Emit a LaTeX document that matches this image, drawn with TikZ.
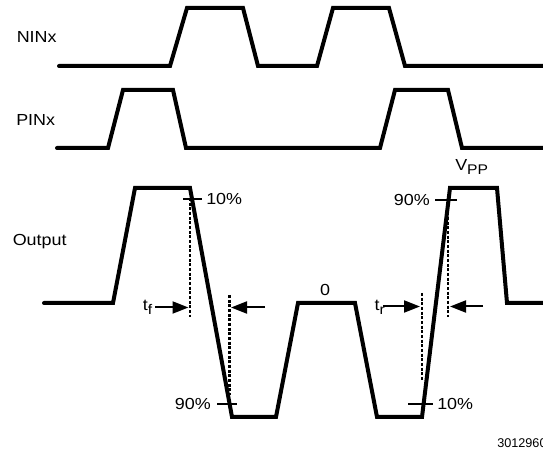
\documentclass[tikz,border=0pt]{standalone}
\usepackage{fontspec}
\setmainfont{Liberation Sans}
\usetikzlibrary{arrows.meta}
\newcommand{\sxw}[1]{\scalebox{1.12}[1]{#1}}
\newcommand{\subx}[1]{\raisebox{-0.45ex}{\fontsize{10.5}{12}\selectfont #1}}
\begin{document}
\begin{tikzpicture}[x=0.75pt,y=-0.75pt,
  wave/.style={line width=3pt, line cap=round, line join=miter},
  dotline/.style={line width=1.6pt, dash pattern=on 2.2pt off 1.3pt},
  tick/.style={line width=1.5pt},
  arr/.style={line width=1.5pt, -{Triangle[length=12pt,width=9pt]}},
  lab/.style={inner sep=0pt, font=\fontsize{12}{14}\selectfont},
  small/.style={inner sep=0pt, font=\fontsize{9.5}{11}\selectfont}]
\useasboundingbox (0,0) rectangle (543,452);
% waveforms
\draw[wave] (59,66) -- (170,66) -- (187,8) -- (243,8) -- (258,66) -- (317,66) -- (333,8) -- (389,8) -- (405,66) -- (543,66);
\draw[wave] (57,148) -- (108,148) -- (123,90) -- (173,90) -- (186,148) -- (380,148) -- (395,90) -- (448,90) -- (462,148) -- (543,148);
\draw[wave] (44,303) -- (113,303) -- (135,188) -- (190,188) -- (232,417) -- (276,417) -- (298,303) -- (355,303) -- (377,417) -- (422,417) -- (450,188) -- (497,188) -- (507,303) -- (543,303);
% dotted reference lines
\coordinate (d1t) at (190,198); \coordinate (d1b) at (190,317);
\coordinate (d2t) at (229.5,295); \coordinate (d2b) at (229.5,395);
\coordinate (d3t) at (421.7,293); \coordinate (d3b) at (421.7,380);
\coordinate (d4t) at (448.3,203); \coordinate (d4b) at (448.3,317);
\draw[dotline] (d1t) -- (d1b);
\draw[dotline] (d2t) -- (d2b);
\draw[dotline] (d3t) -- (d3b);
\draw[dotline] (d4t) -- (d4b);
% ticks
\coordinate (k1a) at (183,199); \coordinate (k1b) at (202,199);
\coordinate (k2a) at (217,404); \coordinate (k2b) at (237,404);
\coordinate (k3a) at (435,200.5); \coordinate (k3b) at (457,200.5);
\coordinate (k4a) at (408,404); \coordinate (k4b) at (433,404);
\draw[tick] (k1a) -- (k1b);
\draw[tick] (k2a) -- (k2b);
\draw[tick] (k3a) -- (k3b);
\draw[tick] (k4a) -- (k4b);
% arrows
\coordinate (a1s) at (155,307.5); \coordinate (a1e) at (188.5,307.5);
\coordinate (a2s) at (265,307.5); \coordinate (a2e) at (231,307.5);
\coordinate (a3s) at (383,306.5); \coordinate (a3e) at (420,306.5);
\coordinate (a4s) at (483,306.5); \coordinate (a4e) at (450,306.5);
\draw[arr] (a1s) -- (a1e);
\draw[arr] (a2s) -- (a2e);
\draw[arr] (a3s) -- (a3e);
\draw[arr] (a4s) -- (a4e);
% labels
\node[lab, anchor=west] (nin) at (16.5,37) {\sxw{NINx}};
\node[lab, anchor=west] (pin) at (16,120) {\sxw{PINx}};
\node[lab, anchor=west] (out) at (12.5,242) {\sxw{Output}};
\node[lab, anchor=west] (p10a) at (206,199) {\sxw{10\%}};
\node[lab, anchor=east] (p90a) at (211,404) {\sxw{90\%}};
\node[lab, anchor=east] (p90b) at (430,200) {\sxw{90\%}};
\node[lab, anchor=west] (p10b) at (437,404) {\sxw{10\%}};
\node[lab] (zero) at (325,290) {\sxw{0}};
\node[lab, anchor=west] (vpp) at (455,167) {\sxw{V\subx{PP}}};
\node[lab, anchor=east] (tf) at (152.5,307) {\sxw{t\subx{f}}};
\node[lab, anchor=east] (tr) at (385,307) {\sxw{t\subx{r}}};
\node[small, anchor=west] (fig) at (497,443.5) {3012960};
\end{tikzpicture}
\end{document}
